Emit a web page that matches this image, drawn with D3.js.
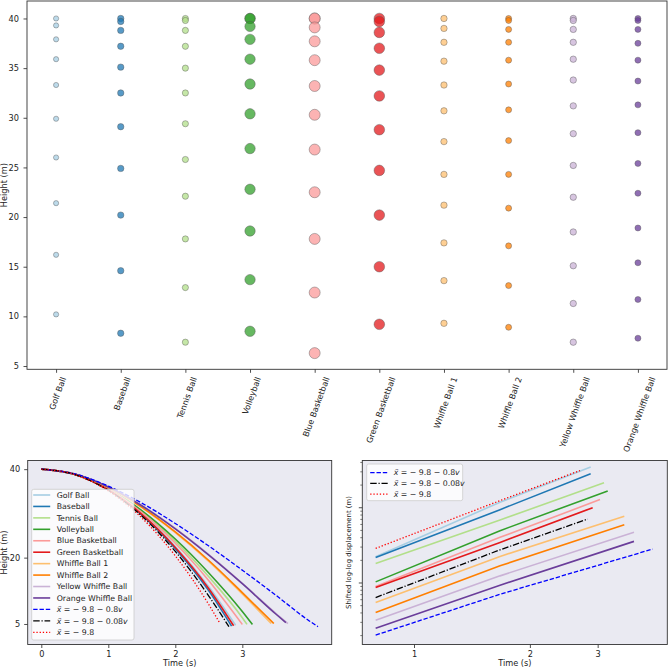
<!DOCTYPE html>
<html>
<head>
<meta charset="utf-8">
<script src="https://cdnjs.cloudflare.com/ajax/libs/d3/7.8.5/d3.min.js"></script>
<style>
body { margin: 0; background: #fff; }
svg { font-family: 'DejaVu Sans', sans-serif; }
</style>
</head>
<body>
<svg id="chart" width="669" height="669"></svg>
<script>
var balls = ['Golf Ball', 'Baseball', 'Tennis Ball', 'Volleyball', 'Blue Basketball', 'Green Basketball',
    'Whiffle Ball 1', 'Whiffle Ball 2', 'Yellow Whiffle Ball', 'Orange Whiffle Ball'];
var ballColors = ['#a6cee3', '#1f78b4', '#b2df8a', '#33a02c', '#fb9a99', '#e31a1c',
    '#fdbf6f', '#ff7f00', '#cab2d6', '#6a3d9a'];
var markerRadius = [2.6, 3.2, 3.1, 5.2, 5.5, 5.3, 3.2, 3.0, 3.2, 3.0];

// heights picked from the video frames (top panel)
var golfHeights = [40, 39.3, 37.9, 35.9, 33.3, 29.9, 26.0, 21.4, 16.2, 10.2];
var baseballHeights = [40, 39.7, 38.8, 37.2, 35.1, 32.5, 29.1, 24.9, 20.2, 14.6, 8.3];
var tennisHeights = [40, 39.8, 38.8, 37.2, 35.0, 32.5, 29.4, 25.8, 22.1, 17.8, 12.9, 7.4];
var volleyHeights = [40, 40, 39.2, 37.9, 35.9, 33.4, 30.4, 26.9, 22.8, 18.6, 13.7, 8.5];
var blueBasketHeights = [40, 40, 39.1, 37.7, 35.8, 33.2, 30.3, 26.8, 22.5, 17.8, 12.4, 6.3];
var greenBasketHeights = [40, 39.7, 38.6, 37.0, 34.8, 32.2, 28.8, 24.7, 20.2, 15.0, 9.2];
var whiffle1Heights = [40, 39.0, 37.6, 35.7, 33.3, 30.7, 27.6, 24.3, 21.2, 17.4, 13.6, 9.3];
var whiffle2Heights = [40, 39.8, 38.9, 37.6, 35.8, 33.4, 30.8, 27.7, 24.3, 20.9, 17.1, 13.1, 8.9];
var yellowWhiffleHeights = [40, 39.8, 38.9, 37.6, 35.9, 33.8, 31.2, 28.4, 25.2, 22.0, 18.5, 15.1, 11.3, 7.4];
var orangeWhiffleHeights = [40, 39.8, 38.9, 37.5, 35.8, 33.7, 31.3, 28.5, 25.4, 22.4, 18.9, 15.4, 11.7, 7.8];
var sampleHeights = [golfHeights, baseballHeights, tennisHeights, volleyHeights, blueBasketHeights,
    greenBasketHeights, whiffle1Heights, whiffle2Heights, yellowWhiffleHeights, orangeWhiffleHeights];
var heightTicks = [5, 10, 15, 20, 25, 30, 35, 40];

// height vs time (bottom left); last value of each list is at its end time
var fallTimes = [0, 0.5, 1, 1.5, 2, 2.5, 3, 3.5, 4];
var golfFall = [40, 38.81, 35.38, 29.88, 22.51, 13.41, 4.7];
var baseballFall = [40, 38.80, 35.31, 29.67, 22.02, 12.48, 4.5];
var tennisFall = [40, 38.83, 35.55, 30.43, 23.73, 15.66, 6.42, 4.9];
var volleyFall = [40, 38.84, 35.62, 30.64, 24.21, 16.53, 7.82, 4.9];
var blueBasketFall = [40, 38.82, 35.48, 30.21, 23.24, 14.78, 4.9];
var greenBasketFall = [40, 38.81, 35.34, 29.78, 22.28, 12.98, 4.6];
var whiffle1Fall = [40, 38.87, 35.84, 31.33, 25.68, 19.15, 11.8, 5.1];
var whiffle2Fall = [40, 38.88, 35.9, 31.4, 25.8, 19.35, 12.1, 5.1];
var yellowWhiffleFall = [40, 38.9, 36.0, 31.8, 26.6, 20.7, 14.2, 7.4, 5.1];
var orangeWhiffleFall = [40, 38.89, 35.97, 31.73, 26.50, 20.57, 14.11, 7.26, 5.3];
var heavyDragFall = [40, 38.92, 36.18, 32.33, 27.72, 22.62, 17.17, 11.51, 5.69, 4.4];
var lightDragFall = [40, 38.79, 35.23, 29.40, 21.40, 11.32, 4.4];
var freeFall = [40, 38.78, 35.1, 28.98, 20.4, 9.38, 5.3];
var fallSeries = [golfFall, baseballFall, tennisFall, volleyFall, blueBasketFall, greenBasketFall,
    whiffle1Fall, whiffle2Fall, yellowWhiffleFall, orangeWhiffleFall, heavyDragFall, lightDragFall, freeFall];
var fallEnds = [2.90, 2.84, 3.07, 3.15, 3.0, 2.87, 3.43, 3.47, 3.68, 3.65, 4.13, 2.80, 2.66];
var fallXTicks = [0, 1, 2, 3];
var fallYTicks = [5, 20, 40];

// shifted log-log displacement (bottom right); last value at its end time
var shiftTimes = [0.795, 1.673];
var golfShift = [2.194, 11.66, 34.15];
var baseballShift = [2.154, 9.29, 27.8];
var tennisShift = [1.792, 6.77, 21.09];
var volleyShift = [1.019, 4.88, 16.50];
var blueBasketShift = [0.884, 3.98, 12.63];
var greenBasketShift = [0.858, 3.41, 9.88];
var whiffle1Shift = [0.541, 2.22, 7.59];
var whiffle2Shift = [0.398, 1.665, 5.86];
var yellowWhiffleShift = [0.314, 1.225, 4.64];
var orangeWhiffleShift = [0.246, 0.920, 3.52];
var heavyDragShift = [0.200, 0.698, 2.78];
var lightDragShift = [0.631, 2.72, 6.98];
var freeShift = [2.840, 12.25, 30.76];
var shiftSeries = [golfShift, baseballShift, tennisShift, volleyShift, blueBasketShift, greenBasketShift,
    whiffle1Shift, whiffle2Shift, yellowWhiffleShift, orangeWhiffleShift, heavyDragShift, lightDragShift, freeShift];
var shiftEnds = [2.877, 2.877, 3.116, 3.186, 3.042, 2.912, 3.518, 3.518, 3.728, 3.728, 4.169, 2.826, 2.699];
var shiftXTicks = [1, 2, 3];
var shiftMajor = [1, 10];
var shiftMinor = [0.2, 0.3, 0.4, 0.5, 0.6, 0.7, 0.8, 0.9, 2, 3, 4, 5, 6, 7, 8, 9, 20, 30, 40];

// model curves: drag coefficient in the legend label
var modelDrag = ['0.8', '0.08', ''];
var modelColors = ['blue', 'black', 'red'];
var modelDash = ['4.4,1.9', '6.5,1.8,1.2,1.8', '1.3,1.9'];

var svg = d3.select('#chart');
var ink = '#222';
var fontSize = 8.2;

function styleAxis(g) {
    g.select('.domain').remove();
    g.attr('font-size', fontSize).attr('font-family', 'DejaVu Sans, sans-serif');
    g.selectAll('line').attr('stroke', ink).attr('stroke-width', 0.8);
    g.selectAll('text').attr('fill', ink);
}

function frame(b, fill) {
    svg.append('rect')
        .attr('x', b.x0).attr('y', b.y0)
        .attr('width', b.x1 - b.x0).attr('height', b.y1 - b.y0)
        .attr('fill', fill).attr('stroke', 'none');
}
function frameBorder(b) {
    svg.append('rect')
        .attr('x', b.x0).attr('y', b.y0)
        .attr('width', b.x1 - b.x0).attr('height', b.y1 - b.y0)
        .attr('fill', 'none').attr('stroke', '#333').attr('stroke-width', 0.9);
}

// ---------- top: heights at sample frames ----------
var sb = {x0: 27, x1: 667, y0: 1, y1: 369.3};
frame(sb, '#fff');

var xBall = d3.scalePoint().domain(balls).range([sb.x0, sb.x1]).padding(0.45);
var yHeight = d3.scaleLinear().domain([4.67, 41.76]).range([sb.y1, sb.y0]);

var cols = svg.append('g').selectAll('g')
    .data(balls)
    .enter()
    .append('g');
cols.each(function (name, i) {
    d3.select(this).selectAll('circle')
        .data(sampleHeights[i])
        .enter()
        .append('circle')
        .attr('cx', xBall(name))
        .attr('cy', function (d) { return yHeight(d); })
        .attr('r', markerRadius[i])
        .attr('fill', ballColors[i])
        .attr('fill-opacity', 0.75)
        .attr('stroke', '#555')
        .attr('stroke-opacity', 0.7)
        .attr('stroke-width', 0.6);
});

svg.append('g')
    .attr('transform', 'translate(' + sb.x0 + ',0)')
    .call(d3.axisLeft(yHeight).tickValues(heightTicks).tickSize(3.5).tickPadding(4.5))
    .call(styleAxis);

var cos70 = Math.cos(70 * Math.PI / 180);
svg.append('g')
    .attr('transform', 'translate(0,' + sb.y1 + ')')
    .call(d3.axisBottom(xBall).tickSize(3.5).tickSizeOuter(0))
    .call(styleAxis)
    .selectAll('text')
    .attr('y', null)
    .attr('dy', '0.35em')
    .attr('text-anchor', 'end')
    .attr('transform', function () {
        var L = this.getComputedTextLength();
        return 'translate(' + (L / 2 * cos70 + 1) + ',' + 8 + ') rotate(-70)';
    });

svg.append('text')
    .attr('transform', 'translate(7,' + (sb.y0 + sb.y1) / 2 + ') rotate(-90)')
    .attr('text-anchor', 'middle')
    .attr('font-size', fontSize)
    .attr('fill', ink)
    .text('Height (m)');
frameBorder(sb);

// ---------- bottom left: height vs time ----------
var lb = {x0: 27.7, x1: 331.7, y0: 460.5, y1: 644.5};
frame(lb, '#eaeaf2');
var xFall = d3.scaleLinear().domain([-0.203, 4.334]).range([lb.x0, lb.x1]);
var yFall = d3.scaleLinear().domain([0.36, 41.96]).range([lb.y1, lb.y0]);

var fallLine = d3.line()
    .x(function (d) { return xFall(d[0]); })
    .y(function (d) { return yFall(d[1]); })
    .curve(d3.curveMonotoneX);

function seriesColor(i) { return i < 10 ? ballColors[i] : modelColors[i - 10]; }
function seriesDash(i) { return i < 10 ? null : modelDash[i - 10]; }
function seriesWidth(i) { return i < 10 ? 1.6 : 1.3; }

fallSeries.forEach(function (hs, i) {
    var pts = hs.map(function (h, j) { return [j < hs.length - 1 ? fallTimes[j] : fallEnds[i], h]; });
    svg.append('path')
        .attr('d', fallLine(pts))
        .attr('fill', 'none')
        .attr('stroke', seriesColor(i))
        .attr('stroke-width', seriesWidth(i))
        .attr('stroke-dasharray', seriesDash(i));
});

svg.append('g')
    .attr('transform', 'translate(' + lb.x0 + ',0)')
    .call(d3.axisLeft(yFall).tickValues(fallYTicks).tickSize(3.5).tickPadding(4))
    .call(styleAxis);
svg.append('g')
    .attr('transform', 'translate(0,' + lb.y1 + ')')
    .call(d3.axisBottom(xFall).tickValues(fallXTicks).tickFormat(d3.format('d')).tickSize(3.5).tickPadding(3))
    .call(styleAxis);
svg.append('text')
    .attr('transform', 'translate(7,' + (lb.y0 + lb.y1) / 2 + ') rotate(-90)')
    .attr('text-anchor', 'middle').attr('font-size', fontSize).attr('fill', ink)
    .text('Height (m)');
svg.append('text')
    .attr('x', (lb.x0 + lb.x1) / 2).attr('y', 666)
    .attr('text-anchor', 'middle').attr('font-size', fontSize).attr('fill', ink)
    .text('Time (s)');

// ---------- bottom right: shifted log-log ----------
var rb = {x0: 362.3, x1: 667.3, y0: 460.5, y1: 644.5};
frame(rb, '#eaeaf2');
var xShift = d3.scaleLog().domain([0.734, 4.55]).range([rb.x0, rb.x1]);
var yShift = d3.scaleLog().domain([0.15, 41.8]).range([rb.y1, rb.y0]);

var shiftLine = d3.line()
    .x(function (d) { return xShift(d[0]); })
    .y(function (d) { return yShift(d[1]); });

shiftSeries.forEach(function (vs, i) {
    var pts = vs.map(function (v, j) { return [j < vs.length - 1 ? shiftTimes[j] : shiftEnds[i], v]; });
    svg.append('path')
        .attr('d', shiftLine(pts))
        .attr('fill', 'none')
        .attr('stroke', seriesColor(i))
        .attr('stroke-width', seriesWidth(i))
        .attr('stroke-dasharray', seriesDash(i));
});

svg.append('g')
    .attr('transform', 'translate(' + rb.x0 + ',0)')
    .call(d3.axisLeft(yShift).tickValues(shiftMajor).tickFormat('').tickSize(3.5))
    .call(styleAxis);
svg.append('g')
    .attr('transform', 'translate(' + rb.x0 + ',0)')
    .call(d3.axisLeft(yShift).tickValues(shiftMinor).tickFormat('').tickSize(2))
    .call(styleAxis)
    .selectAll('line').attr('stroke-width', 0.6);
svg.append('g')
    .attr('transform', 'translate(0,' + rb.y1 + ')')
    .call(d3.axisBottom(xShift).tickValues(shiftXTicks).tickFormat(d3.format('d')).tickSize(3.5).tickPadding(3))
    .call(styleAxis);
svg.append('text')
    .attr('transform', 'translate(351,' + (rb.y0 + rb.y1) / 2 + ') rotate(-90)')
    .attr('text-anchor', 'middle').attr('font-size', 6.9).attr('fill', ink)
    .text('Shifted log-log displacement (m)');
svg.append('text')
    .attr('x', (rb.x0 + rb.x1) / 2).attr('y', 666)
    .attr('text-anchor', 'middle').attr('font-size', fontSize).attr('fill', ink)
    .text('Time (s)');

// ---------- legends ----------
function modelLabel(sel, c) {
    sel.append('tspan').attr('font-style', 'italic').text('x\u0308');
    sel.append('tspan').text(' = \u2212 9.8' + (c ? ' \u2212 ' + c : ''));
    if (c) sel.append('tspan').attr('font-style', 'italic').text('v');
}

function legend(box, idx, rowStart, rowStep, sx0, sx1, tx) {
    svg.append('rect')
        .attr('x', box.x).attr('y', box.y).attr('width', box.w).attr('height', box.h)
        .attr('rx', 2)
        .attr('fill', '#fff').attr('fill-opacity', 0.8)
        .attr('stroke', '#ccc').attr('stroke-width', 0.8);
    var rows = svg.append('g').selectAll('g')
        .data(idx)
        .enter()
        .append('g')
        .attr('transform', function (d, k) { return 'translate(0,' + (rowStart + k * rowStep) + ')'; });
    rows.append('line')
        .attr('x1', box.x + sx0).attr('x2', box.x + sx1)
        .attr('stroke', function (d) { return seriesColor(d); })
        .attr('stroke-width', function (d) { return seriesWidth(d); })
        .attr('stroke-dasharray', function (d) { return seriesDash(d); });
    rows.append('text')
        .attr('x', box.x + tx).attr('dy', '0.35em')
        .attr('font-size', 7.8).attr('fill', ink)
        .each(function (d) {
            if (d < 10) d3.select(this).text(balls[d]);
            else modelLabel(d3.select(this), modelDrag[d - 10]);
        });
}

legend({x: 31.7, y: 489.3, w: 102.3, h: 150.7}, d3.range(13), 495, 11.44, 1.5, 18.5, 25);
legend({x: 366.7, y: 464, w: 96, h: 36.7}, [10, 11, 12], 472.7, 10.7, 3.5, 21, 27);

frameBorder(lb);
frameBorder(rb);
</script>
</body>
</html>
